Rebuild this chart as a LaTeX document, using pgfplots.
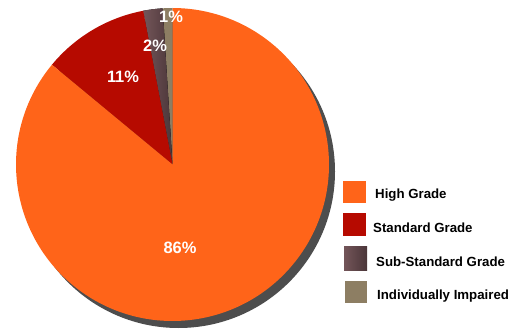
\documentclass[border=0pt]{standalone}
\usepackage{fontspec}
\setmainfont{Liberation Sans}
\usepackage{pgfplots}
\pgfplotsset{compat=1.18}
\usepackage{pgfplotstable}
\definecolor{highc}{HTML}{FF6419}
\definecolor{stdc}{HTML}{B60A00}
\definecolor{subl}{HTML}{735559}
\definecolor{subr}{HTML}{4B3639}
\definecolor{impc}{HTML}{8D7E63}
\definecolor{shad}{HTML}{4D4D4D}

\pgfplotstableread{
name value
High 86
Standard 11
Sub 2
Impaired 1
}\piedata
\pgfplotstablegetelem{0}{value}\of\piedata \let\vHigh\pgfplotsretval
\pgfplotstablegetelem{1}{value}\of\piedata \let\vStd\pgfplotsretval
\pgfplotstablegetelem{2}{value}\of\piedata \let\vSub\pgfplotsretval
\pgfplotstablegetelem{3}{value}\of\piedata \let\vImp\pgfplotsretval
\pgfmathsetmacro\aZero{90}
\pgfmathsetmacro\aOne{\aZero+3.6*\vImp}
\pgfmathsetmacro\aTwo{\aOne+3.6*\vSub}
\pgfmathsetmacro\aThree{\aTwo+3.6*\vStd}
\pgfmathsetmacro\aFour{\aThree+3.6*\vHigh}
\def\R{156.5bp}

\begin{document}%
\begin{tikzpicture}
\begin{axis}[
  width=512bp, height=329bp, scale only axis,
  xmin=0, xmax=512, ymin=0, ymax=329,
  hide axis, clip=false]
% shadow
\fill[shad] (axis cs:178.5,157.5) circle[radius=\R];
% slices
\fill[impc] (axis cs:172.5,164.5) -- ++(\aZero:\R) arc[start angle=\aZero, end angle=\aOne, radius=\R] -- cycle;
\fill[left color=subl, right color=subr] (axis cs:172.5,164.5) -- ++(\aOne:\R) arc[start angle=\aOne, end angle=\aTwo, radius=\R] -- cycle;
\fill[stdc] (axis cs:172.5,164.5) -- ++(\aTwo:\R) arc[start angle=\aTwo, end angle=\aThree, radius=\R] -- cycle;
\fill[highc] (axis cs:172.5,164.5) -- ++(\aThree:\R) arc[start angle=\aThree, end angle=\aFour, radius=\R] -- cycle;
% percent labels
\node[white, font=\bfseries\fontsize{16.5}{16.5}\selectfont] at (axis cs:180,81) {\vHigh\%};
\node[white, font=\bfseries\fontsize{16.5}{16.5}\selectfont] at (axis cs:123,252) {\vStd\%};
\node[white, font=\bfseries\fontsize{16.5}{16.5}\selectfont] at (axis cs:155,283) {\vSub\%};
\node[white, font=\bfseries\fontsize{16.5}{16.5}\selectfont] at (axis cs:171,312) {\vImp\%};
% legend
\fill[highc] (axis cs:343,126) rectangle (axis cs:366,148);
\fill[stdc] (axis cs:343,93) rectangle (axis cs:366,116);
\fill[left color=subl, right color=subr] (axis cs:344,59) rectangle (axis cs:367,82);
\fill[impc] (axis cs:345,26) rectangle (axis cs:367,48);
\node[anchor=west, inner sep=0pt, font=\bfseries\fontsize{13.3}{14}\selectfont] at (axis cs:375,134) {High Grade};
\node[anchor=west, inner sep=0pt, font=\bfseries\fontsize{13.3}{14}\selectfont] at (axis cs:373,101) {Standard Grade};
\node[anchor=west, inner sep=0pt, font=\bfseries\fontsize{13.3}{14}\selectfont] at (axis cs:376,67) {Sub-Standard Grade};
\node[anchor=west, inner sep=0pt, font=\bfseries\fontsize{13.3}{14}\selectfont] at (axis cs:377,33) {Individually Impaired};
\end{axis}
\pgfresetboundingbox
\path (current axis.south west) rectangle (current axis.north east);
\end{tikzpicture}%
\end{document}
